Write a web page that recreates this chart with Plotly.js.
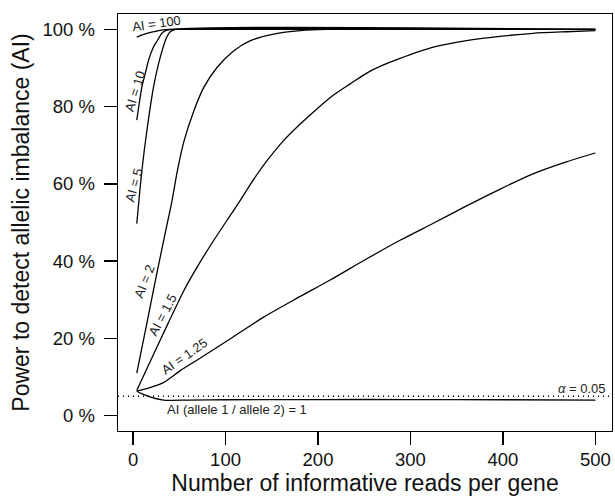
<!DOCTYPE html>
<html>
<head>
<meta charset="utf-8">
<script src="https://cdn.plot.ly/plotly-3.0.1.min.js"></script>
<style>html,body{margin:0;padding:0;background:#fff;}#chart{width:615px;height:496px;}</style>
</head>
<body>
<div id="chart"></div>
<script>
// ---- data (power in %, x = number of informative reads per gene) ----
const ai100X = [4, 10, 15, 20, 26, 32, 40, 500];
const ai100Y = [98.0, 98.6, 99.0, 99.3, 99.6, 99.9, 100, 100];

const ai10X = [4, 9.6, 13.2, 16.8, 22.2, 26, 31.2, 35, 42, 500];
const ai10Y = [76.5, 85.2, 88.6, 92.1, 95.5, 97.0, 99.0, 99.7, 100, 100];

const ai5X = [4, 9.6, 15, 22.2, 29.5, 36.6, 40.2, 46, 500];
const ai5Y = [49.7, 63.6, 73.9, 85.2, 92.9, 98.1, 99.4, 100, 100];

const ai2X = [4, 15, 25, 35, 42, 48, 55, 65.7, 76.5, 91, 109, 127, 152, 181, 210, 500];
const ai2Y = [11, 24, 36, 47.5, 55.5, 63.5, 71, 78.9, 85, 90.2, 94.5, 97.1, 98.8, 99.7, 100, 100];

const ai15X = [4, 15, 33, 55, 69.4, 87.3, 105.3, 116.1, 126.9, 144.9, 162.8, 180.8, 198.8, 216.8, 234.8, 252.8, 270.8, 288.8, 324.7, 360.7, 396.6, 432.6, 468.6, 500];
const ai15Y = [6.5, 12.2, 21.4, 32.4, 38.5, 45.4, 51.9, 55.8, 59.9, 66.0, 71.2, 75.5, 79.4, 83.0, 85.9, 88.7, 90.8, 92.5, 95.4, 97.1, 98.2, 99.0, 99.4, 99.7];

const ai125X = [4, 19, 33.3, 51.4, 69.4, 105.3, 141.2, 177.3, 213.2, 252.8, 288.8, 324.7, 360.7, 396.6, 432.6, 468.6, 500];
const ai125Y = [6.3, 7.3, 8.6, 11.7, 14.4, 19.9, 25.5, 30.4, 35.1, 40.6, 45.4, 49.8, 54.3, 58.6, 62.6, 65.7, 68.0];

const ai1X = [4, 10, 19, 33, 60, 100, 200, 300, 400, 500];
const ai1Y = [6.3, 5.6, 4.75, 4.0, 4.0, 4.1, 4.15, 4.15, 4.1, 4.0];

const alphaLevel = 5; // 5 % significance level

const xTickVals = [0, 100, 200, 300, 400, 500];
const yTickVals = [0, 20, 40, 60, 80, 100];
const yTickText = ['0 %', '20 %', '40 %', '60 %', '80 %', '100 %'];

const curveLabels = ['AI = 100', 'AI = 10', 'AI = 5', 'AI = 2', 'AI = 1.5', 'AI = 1.25',
                     'AI (allele 1 / allele 2) = 1', '<i>α</i> = 0.05'];

// ---- drawing ----
const FONT = 'Liberation Sans, Arial, Helvetica, sans-serif';
const series = [[ai100X, ai100Y], [ai10X, ai10Y], [ai5X, ai5Y], [ai2X, ai2Y],
                [ai15X, ai15Y], [ai125X, ai125Y], [ai1X, ai1Y]];
const traces = series.map(s => ({
  x: s[0], y: s[1], type: 'scatter', mode: 'lines',
  line: {color: '#000', width: 1.3, shape: 'spline', smoothing: 0.7},
  hoverinfo: 'skip', cliponaxis: true
}));

// label placement (data coords) & rotation
const labelPos = [
  {x: 25.4, y: 101.6, a: -8,  xa: 'center'},
  {x: 1.8,  y: 84.0,  a: -73, xa: 'center'},
  {x: 0.8,  y: 59.6,  a: -75, xa: 'center'},
  {x: 12.6, y: 34.6,  a: -68, xa: 'center'},
  {x: 31.5, y: 26.0,  a: -62, xa: 'center'},
  {x: 55.0, y: 15.4,  a: -35, xa: 'center'},
  {x: 34.3, y: 1.5,   a: 0,   xa: 'left'},
  {x: 514,  y: 6.9,   a: 0,   xa: 'right'}
];
const annotations = curveLabels.map((t, i) => ({
  text: t, x: labelPos[i].x, y: labelPos[i].y, xref: 'x', yref: 'y',
  textangle: labelPos[i].a, xanchor: labelPos[i].xa, yanchor: 'middle',
  showarrow: false, font: {family: FONT, size: 13, color: '#222'}
}));

const layout = {
  width: 615, height: 496,
  margin: {l: 118, r: 3, t: 14, b: 65, pad: 0},
  paper_bgcolor: '#fff', plot_bgcolor: '#fff',
  showlegend: false, hovermode: false,
  font: {family: FONT, color: '#111'},
  xaxis: {
    range: [-16.3, 518], tickvals: xTickVals, ticks: 'outside', ticklen: 13,
    tickwidth: 1.3, tickcolor: '#000', showline: true, mirror: true,
    linecolor: '#000', linewidth: 1.4, showgrid: false, zeroline: false,
    tickfont: {family: FONT, size: 18.5, color: '#111'}, ticklabelstandoff: -2,
    automargin: false,
    title: {text: 'Number of informative reads per gene', standoff: 15,
            font: {family: FONT, size: 23, color: '#111'}}
  },
  yaxis: {
    range: [-4, 104], tickvals: yTickVals, ticktext: yTickText, ticks: 'outside',
    ticklen: 13, tickwidth: 1.3, tickcolor: '#000', showline: true, mirror: true,
    linecolor: '#000', linewidth: 1.4, showgrid: false, zeroline: false,
    tickfont: {family: FONT, size: 18.5, color: '#111'}, ticklabelstandoff: 5,
    automargin: false,
    title: {text: 'Power to detect allelic imbalance (AI)', standoff: 6,
            font: {family: FONT, size: 23, color: '#111'}}
  },
  shapes: [{
    type: 'line', xref: 'paper', x0: 0, x1: 1, yref: 'y', y0: alphaLevel, y1: alphaLevel,
    line: {color: '#000', width: 1.5, dash: '1px,4px'}
  }],
  annotations: annotations
};

Plotly.newPlot('chart', traces, layout, {displayModeBar: false, staticPlot: true});
</script>
</body>
</html>
